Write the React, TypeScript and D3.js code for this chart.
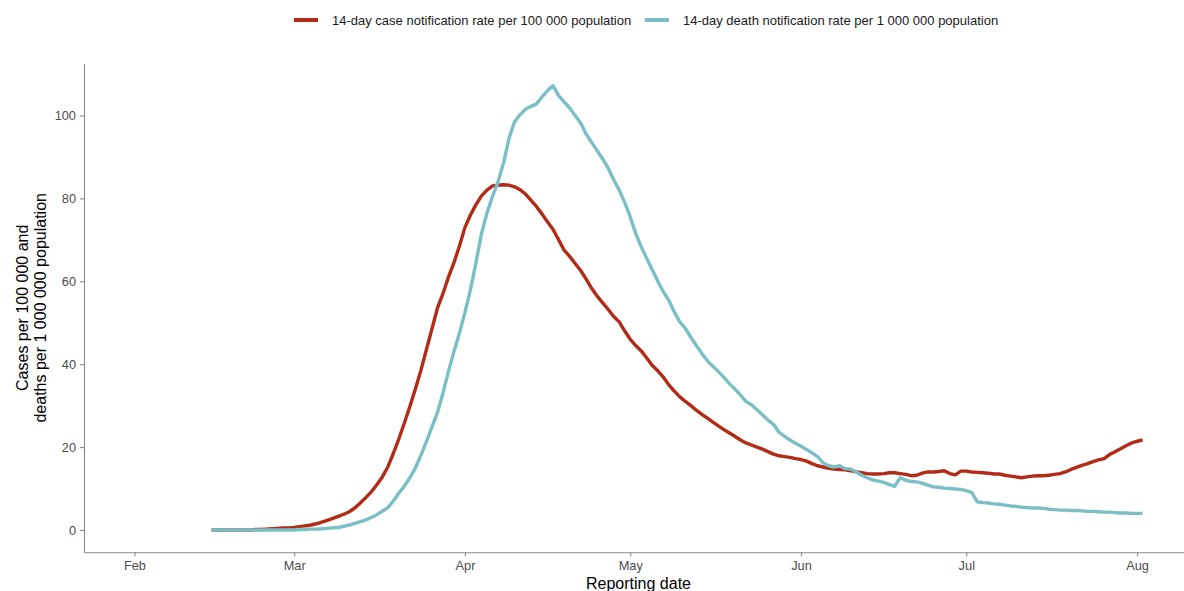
import React, { useEffect, useRef } from "react";
import * as d3 from "d3";

// daily values from this date on
const startDate = "2020-02-15";

// 14-day case notification rate per 100 000
const caseRate = [
  0, 0, 0, 0, 0, 0, 0, 0, 0.1, 0.1,
  0.2, 0.3, 0.4, 0.5, 0.5, 0.6, 0.8, 1.0, 1.2, 1.5,
  1.9, 2.3, 2.8, 3.3, 3.8, 4.4, 5.3, 6.5, 7.8, 9.2,
  10.9, 12.8, 15.2, 18.5, 22.0, 25.8, 29.8, 34.0, 38.5, 43.5,
  48.5, 53.5, 57.0, 61.0, 64.5, 68.5, 73.0, 76.0, 78.5, 80.6,
  82.0, 83.0, 83.2, 83.3, 83.2, 82.8, 82.1, 81.0, 79.5, 78.0,
  76.2, 74.3, 72.5, 70.0, 67.5, 66.0, 64.3, 62.6, 60.5, 58.3,
  56.4, 54.8, 53.2, 51.5, 50.2, 48.0, 46.0, 44.5, 43.2, 41.5,
  39.7, 38.4, 36.9, 35.0, 33.5, 32.1, 31.0, 30.0, 28.9, 27.9,
  27.0, 26.0, 25.1, 24.2, 23.4, 22.6, 21.7, 21.0, 20.5, 20.0,
  19.5, 18.9, 18.3, 17.9, 17.7, 17.5, 17.2, 17.0, 16.6, 16.0,
  15.5, 15.2, 14.9, 14.7, 14.6, 14.5, 14.3, 14.0, 13.8, 13.6,
  13.5, 13.5, 13.6, 13.8, 13.8, 13.6, 13.4, 13.1, 13.2, 13.7,
  14.0, 14.0, 14.1, 14.3, 13.6, 13.3, 14.2, 14.2, 14.0, 13.9,
  13.8, 13.7, 13.5, 13.5, 13.2, 13.0, 12.8, 12.6, 12.8, 13.0,
  13.1, 13.1, 13.2, 13.4, 13.6, 14.0, 14.6, 15.1, 15.6, 16.0,
  16.5, 16.9, 17.2, 18.2, 18.9, 19.6, 20.3, 21.0, 21.4, 21.7,
];

// 14-day death notification rate per 1 000 000
const deathRate = [
  0, 0, 0, 0, 0, 0, 0, 0, 0, 0,
  0, 0, 0, 0, 0, 0, 0.1, 0.1, 0.2, 0.2,
  0.3, 0.4, 0.5, 0.6, 0.9, 1.2, 1.6, 2.0, 2.4, 3.0,
  3.7, 4.5, 5.4, 7.0, 8.9, 10.6, 12.6, 15.0, 18.0, 21.3,
  24.8, 28.3, 33.0, 38.2, 43.0, 47.5, 52.5, 58.0, 64.5, 71.5,
  76.5, 80.5, 84.0, 88.5, 94.5, 98.5, 100.2, 101.5, 102.2, 102.8,
  104.5, 106.0, 107.2, 104.8, 103.3, 101.8, 100.0, 98.2, 95.5, 93.5,
  91.5, 89.5, 87.3, 84.5, 82.0, 79.0, 75.5, 71.5, 68.3, 65.5,
  62.8, 60.0, 57.5, 55.4, 52.6, 50.2, 48.6, 46.5, 44.5, 42.6,
  40.8, 39.5, 38.2, 36.8, 35.3, 34.0, 32.6, 31.0, 30.2, 29.0,
  27.8, 26.5, 25.5, 23.6, 22.6, 21.7, 20.9, 20.2, 19.4, 18.6,
  17.7, 16.2, 15.5, 15.2, 15.5, 14.8, 14.7, 14.0, 13.2, 12.6,
  12.1, 11.8, 11.5, 11.0, 10.5, 12.6, 12.0, 11.7, 11.6, 11.3,
  10.8, 10.4, 10.3, 10.1, 10.0, 9.9, 9.8, 9.5, 9.0, 6.8,
  6.6, 6.5, 6.3, 6.2, 6.0, 5.8, 5.7, 5.5, 5.4, 5.3,
  5.3, 5.2, 5.0, 4.9, 4.8, 4.8, 4.7, 4.7, 4.6, 4.5,
  4.5, 4.4, 4.3, 4.3, 4.2, 4.1, 4.1, 4.0, 4.0, 4.0,
];

const monthTicks = ["2020-02-01", "2020-03-01", "2020-04-01", "2020-05-01", "2020-06-01", "2020-07-01", "2020-08-01"];
const monthLabels = ["Feb", "Mar", "Apr", "May", "Jun", "Jul", "Aug"];
const yTicks = [0, 20, 40, 60, 80, 100];

const seriesNames = [
  "14-day case notification rate per 100 000 population",
  "14-day death notification rate per 1 000 000 population",
];
const seriesColors = ["#B22B17", "#7BBFC6"];

const FONT = "'Liberation Sans', Arial, Helvetica, sans-serif";

export default function App() {
  const ref = useRef<SVGSVGElement>(null);

  useEffect(() => {
    const svg = d3.select(ref.current);
    svg.selectAll("*").remove();

    const width = 1184;
    const height = 591;
    const panel = { left: 84, right: 1193, top: 63.4, bottom: 552.2 };

    const parse = d3.utcParse("%Y-%m-%d");
    const start = parse(startDate)!;
    const dates = caseRate.map((_, i) => d3.utcDay.offset(start, i));
    const tickDates = monthTicks.map((d) => parse(d)!);

    // x limits as ggplot would give them (data span from Feb 1, 5% padding)
    const xMin = tickDates[0].getTime();
    const xMax = dates[dates.length - 1].getTime();
    const xPad = (xMax - xMin) * 0.05;
    const x = d3
      .scaleUtc()
      .domain([new Date(xMin - xPad), new Date(xMax + xPad)])
      .range([panel.left, panel.right]);

    const yMax = d3.max([...caseRate, ...deathRate]) || 1;
    const y = d3
      .scaleLinear()
      .domain([-yMax * 0.05, yMax * 1.05])
      .range([panel.bottom, panel.top]);

    const axisColor = "#8a8a8a";

    const xAxis = svg
      .append("g")
      .attr("transform", `translate(0,${panel.bottom})`)
      .call(
        d3
          .axisBottom(x)
          .tickValues(tickDates)
          .tickFormat((_, i) => monthLabels[i])
          .tickSize(4)
          .tickSizeOuter(0)
          .tickPadding(5)
      );

    const yAxis = svg
      .append("g")
      .attr("transform", `translate(${panel.left},0)`)
      .call(d3.axisLeft(y).tickValues(yTicks).tickSize(4).tickSizeOuter(0).tickPadding(4));

    [xAxis, yAxis].forEach((g) => {
      g.attr("font-family", FONT).attr("font-size", 12.8);
      g.select(".domain").attr("stroke", axisColor).attr("stroke-width", 1.1);
      g.selectAll(".tick line").attr("stroke", axisColor).attr("stroke-width", 1.1);
      g.selectAll(".tick text").attr("fill", "#4d4d4d");
    });

    const line = d3
      .line<number>()
      .x((_, i) => x(dates[i]))
      .y((d) => y(d));

    [caseRate, deathRate].forEach((series, k) => {
      svg
        .append("path")
        .datum(series)
        .attr("fill", "none")
        .attr("stroke", seriesColors[k])
        .attr("stroke-width", 3.4)
        .attr("stroke-linejoin", "round")
        .attr("d", line);
    });

    // axis titles
    svg
      .append("text")
      .attr("x", (panel.left + panel.right) / 2)
      .attr("y", 589)
      .attr("text-anchor", "middle")
      .attr("font-family", FONT)
      .attr("font-size", 16)
      .attr("fill", "#000")
      .text("Reporting date");

    const yTitle = ["Cases per 100 000 and", "deaths per 1 000 000 population"];
    yTitle.forEach((t, i) => {
      svg
        .append("text")
        .attr("transform", `translate(${28 + i * 18},${(panel.top + panel.bottom) / 2}) rotate(-90)`)
        .attr("text-anchor", "middle")
        .attr("font-family", FONT)
        .attr("font-size", 16)
        .attr("fill", "#000")
        .text(t);
    });

    // legend
    const legendX = [294, 645];
    seriesNames.forEach((name, k) => {
      const g = svg.append("g").attr("transform", `translate(${legendX[k]},20)`);
      g.append("line")
        .attr("x1", 0)
        .attr("x2", 24)
        .attr("stroke", seriesColors[k])
        .attr("stroke-width", 4);
      g.append("text")
        .attr("x", 38)
        .attr("y", 4.6)
        .attr("font-family", FONT)
        .attr("font-size", 13)
        .attr("fill", "#1a1a1a")
        .text(name);
    });

    svg.attr("width", width).attr("height", height);
  }, []);

  return (
    <svg
      ref={ref}
      width={1184}
      height={591}
      style={{ position: "absolute", left: 0, top: 0, background: "#fff" }}
    />
  );
}
